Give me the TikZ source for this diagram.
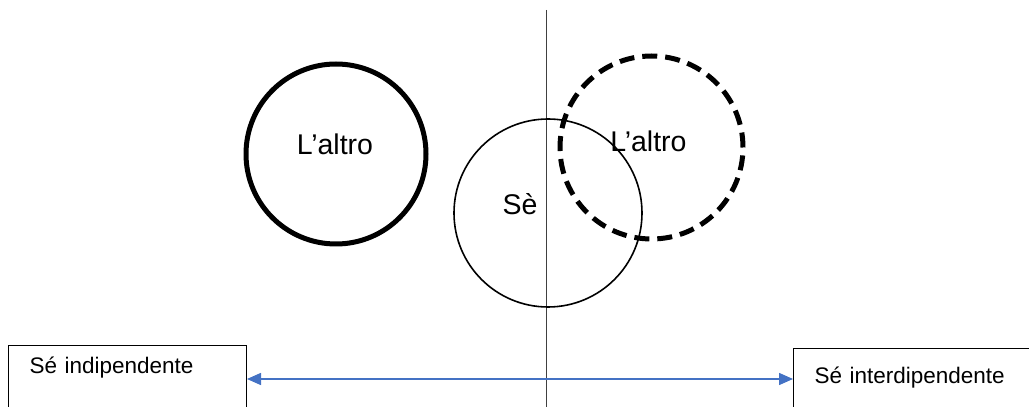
\documentclass[tikz,border=0pt]{standalone}
\usepackage{fontspec}
\setmainfont{Liberation Sans}
\usetikzlibrary{arrows.meta,positioning}
\definecolor{ArrowBlue}{HTML}{4472C4}
\definecolor{AxisGray}{HTML}{404040}

\begin{document}
\begin{tikzpicture}[x=1pt,y=1pt,
    every node/.style={font=\fontsize{28.5}{34}\selectfont, inner sep=0pt},
    selfbox/.style={draw=black, line width=1pt, anchor=north west, font=\fontsize{22.5}{27}\selectfont,
      inner xsep=21pt, inner ysep=0pt, text depth=50pt, align=left},
    ring/.style={circle, draw=black, inner sep=0pt}]
  \useasboundingbox (0,0) rectangle (1029,407);

  % axis between the two poles
  \coordinate (axtop) at (546,397);
  \coordinate (axbot) at (546,-2);
  \draw[AxisGray, line width=1pt] (axtop) -- (axbot);

  % circles
  \node[ring, line width=5pt, minimum size=180pt] (other1) at (336,253) {};
  \node[ring, line width=1.6pt, minimum size=188pt] (self) at (548,194) {};
  \node[ring, line width=5pt, dash pattern=on 15pt off 8pt, minimum size=183pt] (other2) at (651.5,259.5) {};

  \node[anchor=base] (other1lbl) at (335,252) {L’altro};
  \node[anchor=base] (selflbl) at (520,192) {Sè};
  \node[anchor=base] (other2lbl) at (648.5,255) {L’altro};

  % the two poles
  \node[selfbox, text height=28pt, text width=196pt] (indip) at (8,62) {Sé indipendente};
  \node[selfbox, text height=35pt, text width=240pt] (interdip) at (793,59) {Sé interdipendente};

  \draw[{Triangle[length=14pt,width=12pt]}-{Triangle[length=14pt,width=12pt]}, line width=1.5pt, ArrowBlue]
    (indip.east |- 0,28) -- (interdip.west |- 0,28);
\end{tikzpicture}
\end{document}
